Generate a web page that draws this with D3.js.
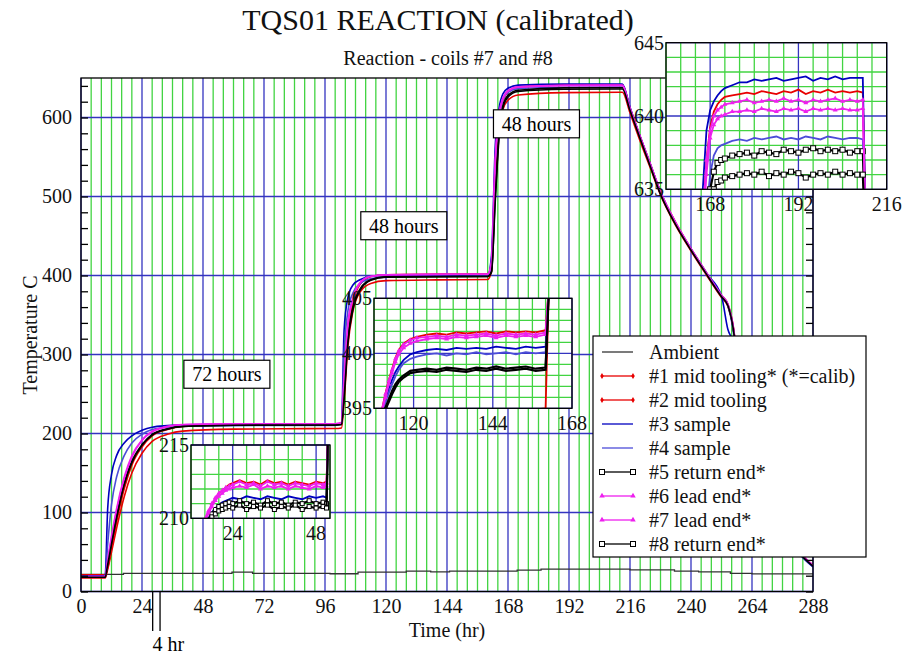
<!DOCTYPE html>
<html lang="en">
<head>
<meta charset="UTF-8">
<title>TQS01 REACTION (calibrated)</title>
<script src="https://d3js.org/d3.v7.min.js"></script>
<style>
    body { margin: 0; background: #fff; }
    svg { display: block; font-family: "Liberation Serif", "Times New Roman", serif; }
</style>
</head>
<body>
<div id="chart"></div>
<script>
// ---- main chart data (time in hr, temperature in C) ----
const mainTime = [0, 9.5, 10.5, 12, 14, 17, 20, 24, 28, 34, 40, 60, 80, 100, 102.5, 103.5, 105, 107, 110, 114,
    120, 140, 160, 161.5, 163, 164.5, 166, 168, 172, 190, 213, 216, 220, 224, 228, 234, 240, 246, 252, 254.5,
    256.5, 258, 261, 265, 270, 276, 282, 288];

const tc1 = [21, 21, 30, 55, 88, 130, 160, 183, 197, 205, 209, 211.8, 212.1, 212.3, 213, 255, 325, 365, 390, 398.5,
    401, 401.7, 402, 415, 540, 600, 622, 632, 638.5, 641.3, 641.5, 612, 576, 541, 506, 467, 434, 404, 375, 364,
    338, 302, 242, 176, 121, 83, 53, 33];
const tc2 = [17, 17, 28, 50, 80, 120, 150, 175, 190, 199, 203, 205.5, 206, 206.3, 207, 240, 310, 355, 380, 390,
    393.5, 394.5, 395, 405, 520, 585, 610, 622, 628.5, 631.5, 632, 606, 570, 536, 502, 463, 431, 401, 372, 361,
    336, 300, 240, 175, 120, 82, 52, 33];
const tc3 = [20, 20, 105, 148, 172, 188, 197, 204, 208, 210, 211, 211.5, 211.5, 211.5, 213, 330, 372, 388, 395, 399,
    400.3, 400.5, 400.5, 425, 565, 612, 630, 637, 641, 642.5, 642.5, 613, 576, 541, 506, 466, 433, 403, 374, 332,
    316, 290, 232, 168, 116, 80, 50, 31];
const tc4 = [19, 19, 60, 110, 145, 172, 188, 199, 205, 208, 209.5, 210, 210.2, 210.3, 212, 300, 355, 378, 390, 396,
    398.5, 399, 399.2, 412, 540, 600, 622, 632, 636.5, 638.3, 638.5, 611, 575, 540, 505, 466, 434, 404, 375, 362,
    332, 297, 236, 172, 118, 81, 51, 32];
const tc5 = [18, 18, 35, 62, 96, 138, 165, 186, 199, 206, 209, 210.6, 210.8, 210.9, 211.5, 250, 320, 360, 384, 394.5,
    398.2, 398.6, 398.8, 405, 500, 580, 615, 628, 634.5, 637.5, 637.7, 610, 574, 539, 504, 465, 433, 403, 374, 363,
    336, 300, 240, 175, 120, 82, 52, 33];
const tc6 = [19, 19, 40, 70, 105, 145, 172, 192, 203, 209, 211.3, 212.2, 212.3, 212.4, 213.5, 270, 340, 372, 392, 399,
    401, 401.5, 401.7, 418, 550, 605, 625, 634, 639, 640.9, 641, 612, 576, 541, 506, 467, 434, 404, 375, 364,
    338, 302, 242, 176, 121, 83, 53, 33];
const tc7 = [19, 19, 38, 68, 102, 142, 170, 191, 202, 208.5, 211, 212, 212.2, 212.3, 213.3, 265, 335, 370, 391, 398.8,
    400.8, 401.4, 401.6, 416, 545, 602, 623, 633, 638.5, 640.3, 640.4, 611, 575, 540, 505, 466, 433, 403, 374, 363,
    337, 301, 241, 175, 120, 82, 52, 33];
const tc8 = [18, 18, 34, 60, 93, 135, 163, 185, 198, 205.5, 208.8, 210.5, 210.7, 210.8, 211.3, 245, 315, 357, 382, 394,
    398, 398.5, 398.7, 404, 495, 575, 612, 626, 633, 635.8, 636.1, 609, 573, 538, 503, 464, 432, 402, 373, 362,
    335, 299, 239, 174, 119, 81, 51, 32];

const ambTime = [0, 16.7, 59.4, 67.5, 98, 109, 128, 137.6, 145, 171.6, 181, 216, 233.5, 243, 255.5, 264, 288];
const ambTemp = [21.8, 23, 24.4, 23, 22.5, 24.5, 25.7, 24.8, 25.7, 27, 28.2, 27.3, 25.7, 24.8, 23, 22.3, 22];

const xTicks = d3.range(0, 289, 24);
const yTicks = d3.range(0, 601, 100);

// ---- inset A: 210 C soak ----
const inATime = [16, 17, 18, 19, 20, 21, 22, 23, 24, 26, 28, 30, 32, 34, 36, 38, 40, 42, 44, 46, 48, 50, 51, 51.4];
const inA1 = [209.9, 210.4, 210.9, 211.3, 211.7, 211.9, 212.1, 212.3, 212.4, 212.6, 212.4, 212.5, 212.3, 212.6, 212.4, 212.5, 212.3, 212.5, 212.4, 212.3, 212.5, 212.4, 212.5, 215.5];
const inA3 = [209.6, 210.0, 210.4, 210.7, 210.9, 211.1, 211.2, 211.3, 211.4, 211.3, 211.5, 211.4, 211.3, 211.5, 211.4, 211.3, 211.5, 211.4, 211.3, 211.5, 211.4, 211.5, 211.4, 215.5];
const inA5 = [209.5, 209.9, 210.3, 210.6, 210.8, 210.9, 211.0, 211.1, 211.0, 211.2, 211.0, 211.1, 210.9, 211.2, 211.0, 211.1, 210.9, 211.1, 211.0, 211.2, 211.0, 211.1, 211.0, 215.5];
const inA6 = [210.0, 210.5, 211.0, 211.4, 211.7, 211.9, 212.1, 212.2, 212.3, 212.5, 212.3, 212.4, 212.2, 212.5, 212.3, 212.4, 212.2, 212.4, 212.3, 212.2, 212.4, 212.3, 212.4, 215.5];
const inA7 = [209.8, 210.3, 210.8, 211.2, 211.5, 211.7, 211.9, 212.0, 212.1, 212.2, 212.1, 212.3, 212.0, 212.2, 212.1, 212.2, 212.0, 212.2, 212.1, 212.0, 212.2, 212.1, 212.2, 215.5];
const inA8 = [209.4, 209.8, 210.1, 210.3, 210.5, 210.6, 210.7, 210.8, 210.7, 210.9, 210.6, 210.8, 210.7, 210.9, 210.6, 210.8, 210.7, 210.9, 210.6, 210.8, 210.7, 210.8, 210.7, 215.5];

// ---- inset B: 400 C soak ----
const inBTime = [110.5, 111.5, 112.5, 113.5, 114.5, 115.5, 117, 119, 121, 124, 127, 130, 133, 136, 139, 142, 145, 148, 151, 154, 157, 160, 161];
const inB1 = [395.0, 396.4, 397.6, 398.6, 399.6, 400.3, 400.9, 401.3, 401.5, 401.7, 401.8, 401.7, 401.9, 401.8, 401.9, 402.0, 401.8, 402.0, 401.9, 402.0, 401.9, 402.1, 406];
const inB2 = [380, 386, 389, 390.5, 391.5, 392.5, 393, 393.5, 393.8, 394, 394.2, 394.3, 394.4, 394.5, 394.6, 394.6, 394.7, 394.8, 394.8, 394.9, 394.9, 395, 406];
const inB3 = [394.8, 395.8, 396.8, 397.6, 398.3, 398.8, 399.4, 399.9, 400.1, 400.3, 400.4, 400.3, 400.5, 400.4, 400.5, 400.4, 400.6, 400.5, 400.4, 400.6, 400.5, 400.6, 406];
const inB4 = [394.6, 395.5, 396.4, 397.2, 397.9, 398.5, 399.1, 399.5, 399.7, 399.9, 400.0, 399.8, 400.0, 399.9, 400.1, 399.9, 400.0, 400.1, 399.9, 400.1, 400.0, 400.1, 406];
const inB5 = [394.5, 395.1, 395.8, 396.6, 397.2, 397.6, 398.0, 398.4, 398.5, 398.6, 398.5, 398.7, 398.6, 398.5, 398.7, 398.6, 398.8, 398.6, 398.7, 398.8, 398.6, 398.7, 406];
const inB6 = [395, 396.3, 397.5, 398.5, 399.5, 400.2, 400.8, 401.2, 401.4, 401.5, 401.6, 401.5, 401.7, 401.6, 401.7, 401.8, 401.6, 401.8, 401.7, 401.8, 401.7, 401.9, 406];
const inB7 = [394.8, 396.0, 397.2, 398.2, 399.2, 399.9, 400.5, 400.9, 401.1, 401.3, 401.4, 401.3, 401.5, 401.4, 401.5, 401.6, 401.4, 401.6, 401.5, 401.6, 401.5, 401.7, 406];
const inB8 = [394.3, 394.9, 395.6, 396.3, 396.9, 397.4, 397.8, 398.2, 398.3, 398.4, 398.3, 398.5, 398.4, 398.3, 398.5, 398.4, 398.6, 398.4, 398.5, 398.6, 398.4, 398.5, 406];

// ---- inset C: 640 C soak ----
const inCTime = [165, 166, 167, 168, 169, 170, 171, 172, 174, 176, 178, 180, 182, 184, 186, 188, 190, 192, 194, 196, 198, 200, 202, 204, 206, 208, 209.5, 210.5];
const inC1 = [628, 633, 637, 639.2, 640.3, 640.8, 641.1, 641.3, 641.4, 641.5, 641.6, 641.5, 641.7, 641.6, 641.5, 641.7, 641.6, 641.8, 641.5, 641.7, 641.6, 641.8, 641.6, 641.7, 641.6, 641.7, 641.6, 630];
const inC3 = [630, 635, 639, 640.4, 641, 641.4, 641.7, 641.9, 642.1, 642.3, 642.3, 642.5, 642.4, 642.5, 642.6, 642.4, 642.5, 642.6, 642.7, 642.4, 642.6, 642.5, 642.7, 642.5, 642.6, 642.6, 642.6, 630];
const inC4 = [626, 630, 633.5, 636, 637.3, 637.8, 638.0, 638.1, 638.3, 638.4, 638.3, 638.5, 638.4, 638.5, 638.6, 638.4, 638.5, 638.4, 638.6, 638.5, 638.4, 638.6, 638.5, 638.4, 638.5, 638.5, 638.4, 630];
const inC5 = [625, 628, 632, 635, 636.2, 636.8, 637, 637.1, 637.3, 637.4, 637.5, 637.3, 637.6, 637.5, 637.4, 637.7, 637.6, 637.5, 637.7, 637.8, 637.6, 637.7, 637.6, 637.7, 637.5, 637.6, 637.6, 630];
const inC6 = [628, 633, 637, 639, 640, 640.4, 640.6, 640.8, 640.9, 641, 641.1, 640.9, 641, 641.1, 641, 641.2, 641, 641.1, 640.9, 641.1, 641, 641.1, 641.2, 641, 641.1, 641, 641.1, 630];
const inC7 = [627, 632, 636, 638.5, 639.4, 639.8, 640, 640.1, 640.3, 640.3, 640.4, 640.3, 640.5, 640.4, 640.3, 640.5, 640.4, 640.5, 640.3, 640.5, 640.4, 640.5, 640.4, 640.5, 640.4, 640.4, 640.5, 630];
const inC8 = [623, 626, 630, 633, 635, 635.5, 635.6, 635.8, 635.9, 636.0, 636.1, 636.0, 636.2, 635.9, 636.1, 636.0, 636.2, 636.1, 635.8, 636.0, 636.1, 636.0, 636.2, 636.0, 636.1, 636.0, 636.0, 630];

const legendLabels = ["Ambient", "#1 mid tooling* (*=calib)", "#2 mid tooling", "#3 sample", "#4 sample",
    "#5 return end*", "#6 lead end*", "#7 lead end*", "#8 return end*"];

const annotations = [
    {label: "72 hours", t: 57.4, temp: 275},
    {label: "48 hours", t: 127, temp: 463},
    {label: "48 hours", t: 179.2, temp: 592}
];
const scaleBarTimes = [28.2, 31.1];

// ---- styles ----
const gridGreen = "#42d442";
const gridBlue = "#3434c0";
const style = {
    amb: {color: "#333333", marker: null},
    tc1: {color: "#e80000", marker: "dot"},
    tc2: {color: "#e80000", marker: "dot"},
    tc3: {color: "#0000c0", marker: null},
    tc4: {color: "#4c4cd8", marker: null},
    tc5: {color: "#000000", marker: "square"},
    tc6: {color: "#ee20ee", marker: "triangle"},
    tc7: {color: "#ee20ee", marker: "triangle"},
    tc8: {color: "#000000", marker: "square"}
};

const W = 912, H = 655;
const plot = {left: 81, right: 813, top: 78, bottom: 591.5};

const svg = d3.select("#chart").append("svg").attr("width", W).attr("height", H);
svg.append("rect").attr("width", W).attr("height", H).attr("fill", "#fff");

const x = d3.scaleLinear().domain([0, 288]).range([plot.left, plot.right]);
const y = d3.scaleLinear().domain([0, 650]).range([plot.bottom, plot.top]);

function drawGrid(g, xs, ys, yStep, yMajor) {
    const [t0, t1] = xs.domain();
    const [v0, v1] = ys.domain();
    const [xl, xr] = xs.range();
    const [yb, yt] = ys.range();
    const vx = d3.range(Math.ceil(t0 / 4) * 4, t1 + 0.001, 4);
    const vy = d3.range(Math.ceil(v0 / yStep) * yStep, v1 + 0.001, yStep);
    const vline = (data, color) => g.selectAll(null).data(data).join("line")
        .attr("x1", d => xs(d)).attr("x2", d => xs(d)).attr("y1", yb).attr("y2", yt)
        .attr("stroke", color).attr("stroke-width", 1.3);
    const hline = (data, color) => g.selectAll(null).data(data).join("line")
        .attr("x1", xl).attr("x2", xr).attr("y1", d => ys(d)).attr("y2", d => ys(d))
        .attr("stroke", color).attr("stroke-width", 1.3);
    vline(vx.filter(d => d % 24 !== 0), gridGreen);
    hline(vy.filter(d => d % yMajor !== 0), gridGreen);
    vline(vx.filter(d => d % 24 === 0), gridBlue);
    hline(vy.filter(d => d % yMajor === 0), gridBlue);
}

function drawMarkers(g, pts, st, xs, ys, size) {
    if (st.marker === "square") {
        g.selectAll(null).data(pts).join("rect")
            .attr("x", d => xs(d[0]) - size / 2).attr("y", d => ys(d[1]) - size / 2)
            .attr("width", size).attr("height", size)
            .attr("fill", "#fff").attr("stroke", st.color).attr("stroke-width", 1);
    } else if (st.marker === "triangle") {
        g.selectAll(null).data(pts).join("path")
            .attr("transform", d => `translate(${xs(d[0])},${ys(d[1])})`)
            .attr("d", d3.symbol(d3.symbolTriangle, size * 2.6)).attr("fill", st.color);
    } else if (st.marker === "dot") {
        g.selectAll(null).data(pts).join("path")
            .attr("transform", d => `translate(${xs(d[0])},${ys(d[1])})`)
            .attr("d", d3.symbol(d3.symbolDiamond, size * 2.2)).attr("fill", st.color);
    }
}

// ---- main plot ----
const main = svg.append("g");
drawGrid(main, x, y, 100, 100);

svg.append("clipPath").attr("id", "clip-main").append("rect")
    .attr("x", plot.left).attr("y", plot.top)
    .attr("width", plot.right - plot.left).attr("height", plot.bottom - plot.top);

const lines = main.append("g").attr("clip-path", "url(#clip-main)");
lines.append("path")
    .datum(ambTime.map((t, i) => [t, ambTemp[i]]))
    .attr("fill", "none").attr("stroke", style.amb.color).attr("stroke-width", 1.3)
    .attr("d", d3.line().x(d => x(d[0])).y(d => y(d[1])).curve(d3.curveStepAfter));

const mainSeries = [["tc1", tc1], ["tc2", tc2], ["tc3", tc3], ["tc4", tc4],
    ["tc5", tc5], ["tc6", tc6], ["tc7", tc7], ["tc8", tc8]];
const mainLine = d3.line().x(d => x(d[0])).y(d => y(d[1])).curve(d3.curveMonotoneX);
mainSeries.forEach(([key, vals]) => {
    lines.append("path")
        .datum(mainTime.map((t, i) => [t, vals[i]]))
        .attr("fill", "none").attr("stroke", style[key].color).attr("stroke-width", 1.6)
        .attr("d", mainLine);
});

// frame
main.append("rect")
    .attr("x", plot.left).attr("y", plot.top)
    .attr("width", plot.right - plot.left).attr("height", plot.bottom - plot.top)
    .attr("fill", "none").attr("stroke", "#000").attr("stroke-width", 1.3);

// inward minor ticks on left and right axes
const minor = d3.range(0, 651, 20);
main.append("g").attr("transform", `translate(${plot.left},0)`)
    .call(d3.axisLeft(y).tickValues(minor).tickSize(-7).tickFormat(""))
    .call(g => g.select(".domain").remove())
    .call(g => g.selectAll("line").attr("stroke-width", 1.3));
main.append("g").attr("transform", `translate(${plot.right},0)`)
    .call(d3.axisRight(y).tickValues(minor).tickSize(-7).tickFormat(""))
    .call(g => g.select(".domain").remove())
    .call(g => g.selectAll("line").attr("stroke-width", 1.3));

// tick labels
main.append("g").attr("transform", `translate(${plot.left},0)`)
    .call(d3.axisLeft(y).tickValues(yTicks).tickSize(0).tickPadding(9))
    .call(g => g.select(".domain").remove())
    .call(g => g.selectAll("text").attr("font-family", "Liberation Serif, Times New Roman, serif")
        .attr("font-size", 20).attr("fill", "#111"));
main.append("g").attr("transform", `translate(0,${plot.bottom})`)
    .call(d3.axisBottom(x).tickValues(xTicks).tickSize(0).tickPadding(7))
    .call(g => g.select(".domain").remove())
    .call(g => g.selectAll("text").attr("font-family", "Liberation Serif, Times New Roman, serif")
        .attr("font-size", 20).attr("fill", "#111"));

// 4 hr scale bar
svg.selectAll(null).data(scaleBarTimes).join("line")
    .attr("x1", d => x(d)).attr("x2", d => x(d)).attr("y1", plot.bottom).attr("y2", 631)
    .attr("stroke", "#000").attr("stroke-width", 1.3);
svg.append("text").attr("x", x(d3.mean(scaleBarTimes)) + 12).attr("y", 651)
    .attr("text-anchor", "middle").attr("font-size", 20).text("4 hr");

// annotation boxes
annotations.forEach(a => {
    const cx = x(a.t), cy = y(a.temp);
    const g = svg.append("g");
    g.append("rect").attr("x", cx - 43).attr("y", cy - 14).attr("width", 86).attr("height", 28)
        .attr("fill", "#fff").attr("stroke", "#000").attr("stroke-width", 1.2);
    g.append("text").attr("x", cx).attr("y", cy + 7).attr("text-anchor", "middle")
        .attr("font-size", 20).text(a.label);
});

// ---- insets ----
function drawInset(id, box, xDom, yDom, xT, yT, time, series, markerSize) {
    const xs = d3.scaleLinear().domain(xDom).range([box.x0, box.x1]);
    const ys = d3.scaleLinear().domain(yDom).range([box.y1, box.y0]);
    const g = svg.append("g");
    g.append("rect").attr("x", box.x0).attr("y", box.y0)
        .attr("width", box.x1 - box.x0).attr("height", box.y1 - box.y0).attr("fill", "#fff");
    drawGrid(g, xs, ys, 1, 5);
    svg.append("clipPath").attr("id", id).append("rect")
        .attr("x", box.x0).attr("y", box.y0)
        .attr("width", box.x1 - box.x0).attr("height", box.y1 - box.y0);
    const inner = g.append("g").attr("clip-path", `url(#${id})`);
    const ln = d3.line().x(d => xs(d[0])).y(d => ys(d[1]));
    series.forEach(([key, vals]) => {
        const pts = time.map((t, i) => [t, vals[i]]);
        const st = style[key];
        inner.append("path").datum(pts)
            .attr("fill", "none").attr("stroke", st.color)
            .attr("stroke-width", st.color === "#000000" ? 2.2 : 1.8)
            .attr("d", ln);
        if (st.marker === "triangle" || (st.marker === "square" && markerSize > 0)) {
            drawMarkers(inner, pts.slice(1, -1), st, xs, ys, st.marker === "square" ? markerSize : 4);
        }
    });
    g.append("rect").attr("x", box.x0).attr("y", box.y0)
        .attr("width", box.x1 - box.x0).attr("height", box.y1 - box.y0)
        .attr("fill", "none").attr("stroke", "#000").attr("stroke-width", 1.3);
    g.selectAll(null).data(yT).join("text")
        .attr("x", box.x0 - 2).attr("y", d => ys(d)).attr("dy", "0.35em")
        .attr("text-anchor", "end").attr("font-size", 20).attr("fill", "#111").text(d => d);
    g.selectAll(null).data(xT).join("text")
        .attr("x", d => xs(d)).attr("y", box.y1 + 22)
        .attr("text-anchor", "middle").attr("font-size", 20).attr("fill", "#111").text(d => d);
}

drawInset("clip-a", {x0: 191, x1: 330, y0: 445, y1: 518.3}, [12, 52], [210, 215], [24, 48], [210, 215],
    inATime, [["tc1", inA1], ["tc3", inA3], ["tc5", inA5], ["tc6", inA6], ["tc7", inA7], ["tc8", inA8]], 4);
drawInset("clip-b", {x0: 374, x1: 572, y0: 298.3, y1: 408.3}, [108, 168], [395, 405], [120, 144, 168], [395, 400, 405],
    inBTime, [["tc1", inB1], ["tc2", inB2], ["tc3", inB3], ["tc4", inB4], ["tc5", inB5], ["tc6", inB6], ["tc7", inB7], ["tc8", inB8]], 0);
drawInset("clip-c", {x0: 666, x1: 886.7, y0: 42.7, y1: 189.3}, [156, 216], [635, 645], [168, 192, 216], [635, 640, 645],
    inCTime, [["tc1", inC1], ["tc3", inC3], ["tc4", inC4], ["tc5", inC5], ["tc6", inC6], ["tc7", inC7], ["tc8", inC8]], 5);

// ---- legend ----
const leg = svg.append("g");
leg.append("rect").attr("x", 593).attr("y", 336).attr("width", 273).attr("height", 221)
    .attr("fill", "#fff").attr("stroke", "#000").attr("stroke-width", 1.2);
const legKeys = ["amb", "tc1", "tc2", "tc3", "tc4", "tc5", "tc6", "tc7", "tc8"];
legKeys.forEach((k, i) => {
    const cy = 352 + i * 24;
    const st = style[k];
    leg.append("line").attr("x1", 602).attr("x2", 633).attr("y1", cy).attr("y2", cy)
        .attr("stroke", st.color).attr("stroke-width", 1.3);
    const ends = [[602, cy], [633, cy]];
    drawMarkers(leg, ends, st, d => d, d => d, 5);
    leg.append("text").attr("x", 649).attr("y", cy + 7).attr("font-size", 20).attr("fill", "#111")
        .text(legendLabels[i]);
});

// ---- titles ----
svg.append("text").attr("x", 438).attr("y", 30).attr("text-anchor", "middle")
    .attr("font-size", 30).attr("fill", "#111").text("TQS01 REACTION (calibrated)");
svg.append("text").attr("x", 448).attr("y", 65).attr("text-anchor", "middle")
    .attr("font-size", 20).attr("fill", "#111").text("Reaction - coils #7 and #8");
svg.append("text").attr("x", 447).attr("y", 637).attr("text-anchor", "middle")
    .attr("font-size", 20).attr("fill", "#111").text("Time (hr)");
svg.append("text").attr("transform", "translate(30,335) rotate(-90)").attr("dy", "0.35em")
    .attr("text-anchor", "middle").attr("font-size", 20).attr("fill", "#111").text("Temperature C");
</script>
</body>
</html>
